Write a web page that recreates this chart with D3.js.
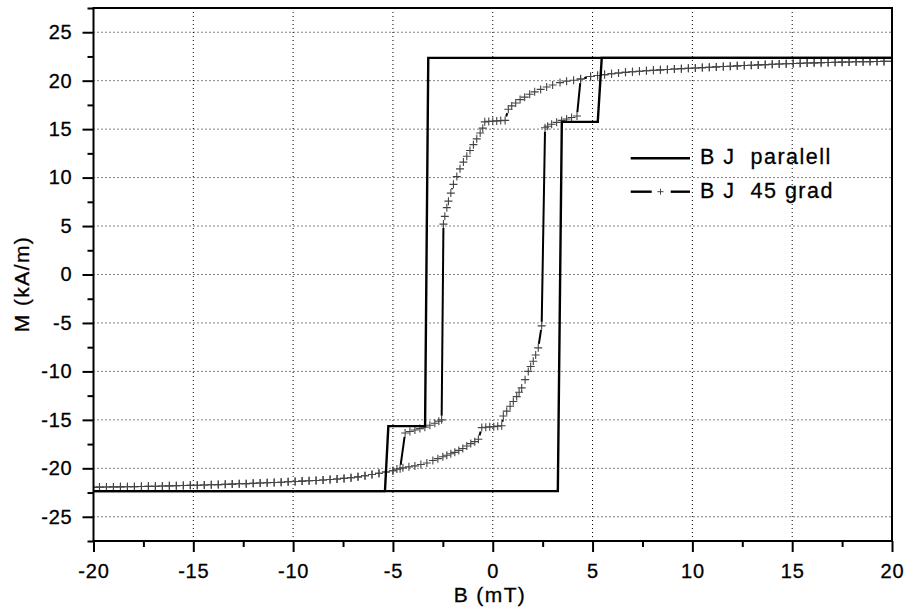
<!DOCTYPE html>
<html>
<head>
<meta charset="utf-8">
<script src="https://cdn.jsdelivr.net/npm/d3@7/dist/d3.min.js"></script>
<style>
  html, body { margin: 0; padding: 0; background: #fff; }
  svg { display: block; font-family: "Liberation Sans", Arial, sans-serif; }
  text { fill: #000; stroke: #000; stroke-width: 0.3px; }
</style>
</head>
<body>
<svg id="chart" width="904" height="612"></svg>
<script>
// axis ticks
const xMajor = [-20, -15, -10, -5, 0, 5, 10, 15, 20];
const xMinor = [-17.5, -12.5, -7.5, -2.5, 2.5, 7.5, 12.5, 17.5];
const yMajor = [-25, -20, -15, -10, -5, 0, 5, 10, 15, 20, 25];
const yMinor = [-27.5, -22.5, -17.5, -12.5, -7.5, -2.5, 2.5, 7.5, 12.5, 17.5, 22.5, 27.5];

const legendNames = ['B J  paralell', 'B J  45 grad'];

// B J paralell: square loop, [B (mT), M (kA/m)]
const paraUp = [[-20, -22.35], [-5.4, -22.35], [-5.23, -15.65], [-3.39, -15.65], [-3.23, 22.35], [20, 22.35]];
const paraDown = [[20, 22.35], [5.46, 22.35], [5.26, 15.75], [3.46, 15.75], [3.26, -22.35], [-20, -22.35]];

// B J 45 grad: shared saturation tails
const tailPos = [
  [20.0, 22.0], [19.6, 21.99], [19.25, 21.98], [18.9, 21.97], [18.55, 21.96], [18.2, 21.95],
  [17.85, 21.93], [17.5, 21.91], [17.15, 21.9], [16.8, 21.88], [16.45, 21.86], [16.1, 21.84],
  [15.75, 21.82], [15.4, 21.79], [15.05, 21.77], [14.7, 21.74], [14.35, 21.72], [14.0, 21.69],
  [13.65, 21.66], [13.3, 21.63], [12.95, 21.6], [12.6, 21.56], [12.25, 21.53], [11.9, 21.49],
  [11.55, 21.46], [11.2, 21.42], [10.85, 21.38], [10.5, 21.35], [10.15, 21.31], [9.8, 21.28],
  [9.45, 21.24], [9.1, 21.2], [8.75, 21.16], [8.4, 21.12], [8.05, 21.07], [7.7, 21.02],
  [7.35, 20.97], [7.0, 20.92], [6.65, 20.86], [6.3, 20.79], [5.95, 20.71], [5.6, 20.63],
  [5.25, 20.54], [4.9, 20.43]
];
const tailNeg = [
  [-5.0, -20.25], [-5.35, -20.38], [-5.7, -20.51], [-6.05, -20.64], [-6.4, -20.77], [-6.75, -20.88],
  [-7.1, -20.97], [-7.45, -21.04], [-7.8, -21.1], [-8.15, -21.15], [-8.5, -21.2], [-8.85, -21.25],
  [-9.2, -21.29], [-9.55, -21.32], [-9.9, -21.36], [-10.25, -21.39], [-10.6, -21.43], [-10.95, -21.46],
  [-11.3, -21.49], [-11.65, -21.52], [-12.0, -21.55], [-12.35, -21.58], [-12.7, -21.6], [-13.05, -21.63],
  [-13.4, -21.65], [-13.75, -21.68], [-14.1, -21.7], [-14.45, -21.72], [-14.8, -21.74], [-15.15, -21.76],
  [-15.5, -21.78], [-15.85, -21.8], [-16.2, -21.81], [-16.55, -21.83], [-16.9, -21.85], [-17.25, -21.86],
  [-17.6, -21.88], [-17.95, -21.89], [-18.3, -21.9], [-18.65, -21.91], [-19.0, -21.92], [-19.35, -21.93],
  [-19.7, -21.94], [-20.0, -21.95]
];
// descending field, between the tails
const downMid = [
  [4.4, 20.15], [4.22, 16.35], [3.95, 16.2], [3.7, 16.05], [3.45, 15.9], [3.2, 15.7],
  [2.95, 15.5], [2.75, 15.3], [2.62, 15.15], [2.45, -5.3], [2.28, -7.57], [2.15, -8.3],
  [2.03, -8.95], [1.9, -9.5], [1.78, -10.0], [1.62, -10.85], [1.45, -11.7], [1.32, -12.15],
  [1.2, -12.6], [1.03, -13.1], [0.87, -13.6], [0.7, -14.1], [0.53, -14.6], [0.45, -15.6],
  [0.25, -15.65], [0.05, -15.7], [-0.15, -15.72], [-0.35, -15.76], [-0.55, -15.8], [-0.72, -17.0],
  [-0.9, -17.25], [-1.1, -17.45], [-1.3, -17.7], [-1.5, -17.95], [-1.7, -18.15], [-1.9, -18.35],
  [-2.1, -18.5], [-2.3, -18.65], [-2.5, -18.8], [-2.75, -19.0], [-3.0, -19.2], [-3.3, -19.45],
  [-3.6, -19.6], [-3.9, -19.75], [-4.2, -19.85], [-4.5, -19.95], [-4.8, -20.08]
];
// ascending field, between the tails
const upMid = [
  [-4.64, -20.05], [-4.39, -16.35], [-4.15, -16.2], [-3.9, -16.05], [-3.65, -15.9],
  [-3.4, -15.75], [-3.15, -15.55], [-2.9, -15.35], [-2.7, -15.15], [-2.56, -15.0],
  [-2.47, 5.2], [-2.4, 6.0], [-2.3, 6.9], [-2.22, 7.57], [-2.1, 8.4], [-1.97, 9.3],
  [-1.8, 10.1], [-1.64, 10.9], [-1.47, 11.6], [-1.3, 12.2], [-1.14, 12.8], [-0.97, 13.4], [-0.8, 14.0],
  [-0.63, 14.6], [-0.5, 15.1], [-0.4, 15.75], [-0.2, 15.8], [0.0, 15.82], [0.2, 15.85], [0.4, 15.88],
  [0.62, 15.9], [0.78, 17.05], [0.95, 17.4], [1.15, 17.7], [1.37, 18.05], [1.6, 18.3], [1.85, 18.6],
  [2.1, 18.85], [2.4, 19.1], [2.7, 19.35], [3.0, 19.55], [3.37, 19.8], [3.7, 19.95], [4.05, 20.05],
  [4.4, 20.2]
];

const gradDown = [...tailPos, ...downMid, ...tailNeg];
const gradUp = [...tailNeg.slice().reverse(), ...upMid, ...tailPos.slice().reverse()];

const svg = d3.select('#chart');
const plot = { left: 93.5, right: 892, top: 8, bottom: 541 };

const x = d3.scaleLinear().domain([-20, 20]).range([plot.left, plot.right]);
const y = d3.scaleLinear().domain([-27.5, 27.5]).range([plot.bottom, plot.top]);

svg.append('defs').append('clipPath').attr('id', 'plot-clip')
  .append('rect')
  .attr('x', plot.left).attr('y', plot.top)
  .attr('width', plot.right - plot.left).attr('height', plot.bottom - plot.top);

// dotted grid
const grid = svg.append('g').attr('stroke', '#000').attr('stroke-width', 1).attr('stroke-dasharray', '1,3');
grid.selectAll('line.gx').data(xMajor.slice(1, -1)).join('line')
  .attr('class', 'gx')
  .attr('x1', (d) => x(d)).attr('x2', (d) => x(d))
  .attr('y1', plot.top).attr('y2', plot.bottom);
grid.selectAll('line.gy').data(yMajor).join('line')
  .attr('class', 'gy')
  .attr('x1', plot.left).attr('x2', plot.right)
  .attr('y1', (d) => y(d)).attr('y2', (d) => y(d));

const line = d3.line().x((d) => x(d[0])).y((d) => y(d[1]));
const cross = 'M-4,0H4M0,-4V4';
const gap = 4;

// line pieces between symbols, leaving a gap round each symbol
const gapSegments = (branch) => d3.pairs(branch).map(([a, b]) => {
  const x0 = x(a[0]), y0 = y(a[1]), x1 = x(b[0]), y1 = y(b[1]);
  const len = Math.hypot(x1 - x0, y1 - y0);
  if (len <= 2 * gap + 1) return null;
  const ux = (x1 - x0) / len, uy = (y1 - y0) / len;
  return [x0 + ux * gap, y0 + uy * gap, x1 - ux * gap, y1 - uy * gap];
}).filter(Boolean);

const marks = svg.append('g').attr('clip-path', 'url(#plot-clip)');

// 45 grad: line with + symbols
[gradDown, gradUp].forEach((branch) => {
  marks.append('g').selectAll('line').data(gapSegments(branch)).join('line')
    .attr('x1', (d) => d[0]).attr('y1', (d) => d[1])
    .attr('x2', (d) => d[2]).attr('y2', (d) => d[3])
    .attr('stroke', '#000')
    .attr('stroke-width', 2);
  marks.append('g').selectAll('path').data(branch).join('path')
    .attr('transform', (d) => `translate(${x(d[0])},${y(d[1])})`)
    .attr('d', cross)
    .attr('fill', 'none')
    .attr('stroke', '#444')
    .attr('stroke-width', 1.1);
});

// paralell: square loop
[paraUp, paraDown].forEach((branch) => {
  marks.append('path')
    .datum(branch)
    .attr('fill', 'none')
    .attr('stroke', '#000')
    .attr('stroke-width', 2.4)
    .attr('stroke-linejoin', 'miter')
    .attr('d', line);
});

// frame
svg.append('rect')
  .attr('x', plot.left).attr('y', plot.top)
  .attr('width', plot.right - plot.left).attr('height', plot.bottom - plot.top)
  .attr('fill', 'none').attr('stroke', '#000').attr('stroke-width', 2);

const styleAxis = (g) => {
  g.select('.domain').remove();
  g.selectAll('.tick line').attr('stroke', '#000').attr('stroke-width', 2);
  g.selectAll('.tick text')
    .style('font-size', '20px')
    .style('letter-spacing', '0.8px');
};

svg.append('g')
  .attr('transform', `translate(0,${plot.bottom})`)
  .call(d3.axisBottom(x).tickValues(xMajor).tickSize(11).tickPadding(12).tickFormat((d) => String(d)))
  .call(styleAxis);
svg.append('g')
  .attr('transform', `translate(0,${plot.bottom})`)
  .call(d3.axisBottom(x).tickValues(xMinor).tickSize(6).tickFormat(''))
  .call(styleAxis);

svg.append('g')
  .attr('transform', `translate(${plot.left},0)`)
  .call(d3.axisLeft(y).tickValues(yMajor).tickSize(11).tickPadding(10).tickFormat((d) => String(d)))
  .call(styleAxis);
svg.append('g')
  .attr('transform', `translate(${plot.left},0)`)
  .call(d3.axisLeft(y).tickValues(yMinor).tickSize(6).tickFormat(''))
  .call(styleAxis);

// axis titles
svg.append('text')
  .attr('x', 490).attr('y', 602)
  .attr('text-anchor', 'middle')
  .style('font-size', '21px').style('letter-spacing', '1.4px')
  .text('B (mT)');
svg.append('text')
  .attr('transform', 'translate(29,284) rotate(-90)')
  .attr('text-anchor', 'middle')
  .style('font-size', '21px').style('letter-spacing', '1.4px')
  .text('M (kA/m)');

// legend
const legend = svg.append('g');
const rows = legend.selectAll('g').data(legendNames).join('g')
  .attr('transform', (d, i) => `translate(0,${158.3 + i * 33.4})`);
rows.append('text')
  .attr('x', 700).attr('y', 6)
  .style('font-size', '21.5px').style('letter-spacing', '1.5px').style('white-space', 'pre')
  .text((d) => d);
rows.filter((d, i) => i === 0).append('line')
  .attr('x1', 630.7).attr('x2', 690).attr('y1', 0).attr('y2', 0)
  .attr('stroke', '#000').attr('stroke-width', 2.4);
const row2 = rows.filter((d, i) => i === 1);
row2.selectAll('line').data([[630.7, 651.7], [670.7, 690]]).join('line')
  .attr('x1', (d) => d[0]).attr('x2', (d) => d[1]).attr('y1', 0).attr('y2', 0)
  .attr('stroke', '#000').attr('stroke-width', 2.4);
row2.append('path')
  .attr('transform', 'translate(660.5,0)')
  .attr('d', 'M-3,0H3M0,-3V3')
  .attr('fill', 'none').attr('stroke', '#444').attr('stroke-width', 1);
</script>
</body>
</html>
